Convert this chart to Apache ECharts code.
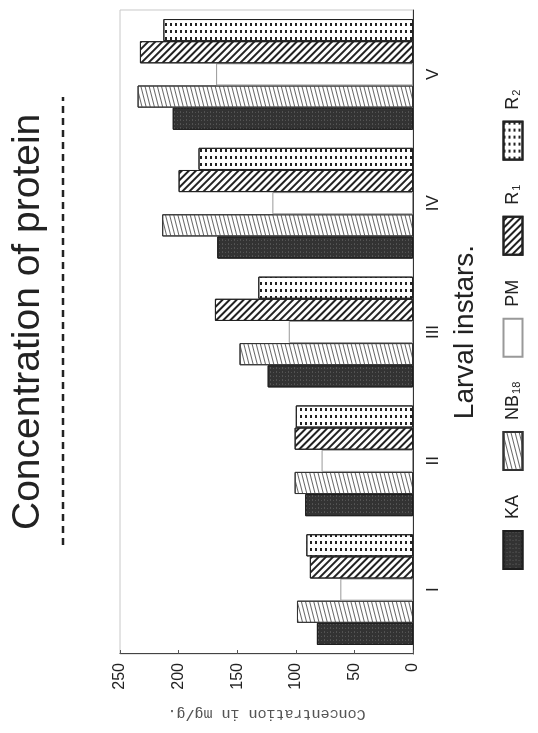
<!DOCTYPE html>
<html>
<head>
<meta charset="utf-8">
<script src="https://cdn.jsdelivr.net/npm/echarts@6.0.0/dist/echarts.min.js"></script>
<style>
html,body{margin:0;padding:0;background:#fff;overflow:hidden;width:538px;height:733px;}
#wrap{position:absolute;left:0;top:0;width:733px;height:538px;transform-origin:0 0;transform:translateY(733px) rotate(-90deg);}
</style>
</head>
<body>
<div id="wrap"></div>
<script>
// ---- data ----
const categories = ['I', 'II', 'III', 'IV', 'V'];
const seriesNames = ['KA', 'NB18', 'PM', 'R1', 'R2'];
const KA   = [82, 92, 124, 167, 205];
const NB18 = [99, 101, 148, 214, 235];
const PM   = [62, 78, 106, 120, 168];
const R1   = [88, 101, 169, 200, 233];
const R2   = [91, 100, 132, 183, 213];
const valueMin = 0, valueMax = 250, valueStep = 50;
const titleText = 'Concentration of protein';
const valueAxisName = 'Concentration in mg/g.';
const categoryAxisName = 'Larval instars.';
const legendLabels = {KA: 'KA', NB18: 'NB{sub|18}', PM: 'PM', R1: 'R{sub|1}', R2: 'R{sub|2}'};

const chart = echarts.init(document.getElementById('wrap'), null, {renderer: 'canvas', width: 733, height: 538});

const styles = {
  KA:   {color: '#333', borderColor: '#1e1e1e', borderWidth: 1,
         decal: {symbol: 'rect', symbolSize: 1, color: 'rgba(255,255,255,0.16)', dashArrayX: [[1, 3], [2, 2]], dashArrayY: [1, 2], rotation: 0}},
  NB18: {color: '#fff', borderColor: '#333', borderWidth: 1,
         decal: {symbol: 'rect', symbolSize: 1, color: '#666', dashArrayX: [1, 0], dashArrayY: [1, 3], rotation: -0.25}},
  PM:   {color: '#fff', borderColor: '#999', borderWidth: 1},
  R1:   {color: '#fff', borderColor: '#222', borderWidth: 1,
         decal: {symbol: 'rect', symbolSize: 1, color: '#222', dashArrayX: [1, 0], dashArrayY: [2, 2.6], rotation: Math.PI / 4}},
  R2:   {color: '#fff', borderColor: '#222', borderWidth: 1,
         decal: {symbol: 'rect', symbolSize: 1, color: '#222', dashArrayX: [3, 4], dashArrayY: [2, 3], rotation: 0}}
};
const dataMap = {KA, NB18, PM, R1, R2};

const option = {
  animation: false,
  backgroundColor: '#fff',
  textStyle: {fontFamily: 'Liberation Sans', color: '#222'},
  title: {
    text: titleText, left: 203, top: 9, padding: 0,
    textStyle: {fontSize: 39, fontWeight: 'normal', color: '#222', fontFamily: 'Liberation Sans'}
  },
  legend: {
    data: seriesNames, left: 163, top: 502, padding: 0, itemWidth: 38, itemHeight: 19, itemGap: 24,
    icon: 'rect',
    formatter: n => legendLabels[n],
    textStyle: {fontSize: 18, color: '#222', padding: [0, 0, 0, 7],
      rich: {sub: {fontSize: 11, lineHeight: 11, verticalAlign: 'bottom', padding: [9, 0, 0, 1]}}}
  },
  grid: {left: 79, right: 10, top: 120, bottom: 125, show: true, borderColor: '#c8c8c8', borderWidth: 1},
  xAxis: {
    type: 'category', data: categories,
    axisLine: {lineStyle: {color: '#333'}},
    axisTick: {inside: true, alignWithLabel: true, length: 7, lineStyle: {color: '#555'}},
    axisLabel: {fontSize: 17, margin: 12, color: '#222'},
    name: categoryAxisName, nameLocation: 'middle', nameGap: 38,
    nameTextStyle: {fontSize: 28, color: '#222'}
  },
  yAxis: {
    type: 'value', min: valueMin, max: valueMax, interval: valueStep,
    axisLine: {show: true, lineStyle: {color: '#444'}},
    axisTick: {show: true, inside: true, length: 4, lineStyle: {color: '#555'}},
    axisLabel: {fontSize: 16, margin: 9, color: '#222'},
    splitLine: {show: false},
    name: valueAxisName, nameLocation: 'middle', nameRotate: 90, nameGap: 52,
    nameTextStyle: {fontFamily: 'Liberation Mono', fontSize: 15, color: '#555'}
  },
  graphic: [{
    type: 'line', shape: {x1: 188, y1: 63, x2: 636, y2: 63},
    style: {stroke: '#222', lineWidth: 2.5, lineDash: [7, 5]}, silent: true
  }],
  series: seriesNames.map(n => ({
    name: n, type: 'bar', data: dataMap[n],
    barGap: '0%', barCategoryGap: '14%',
    itemStyle: styles[n],
    emphasis: {disabled: true}
  }))
};
chart.setOption(option);
</script>
</body>
</html>
